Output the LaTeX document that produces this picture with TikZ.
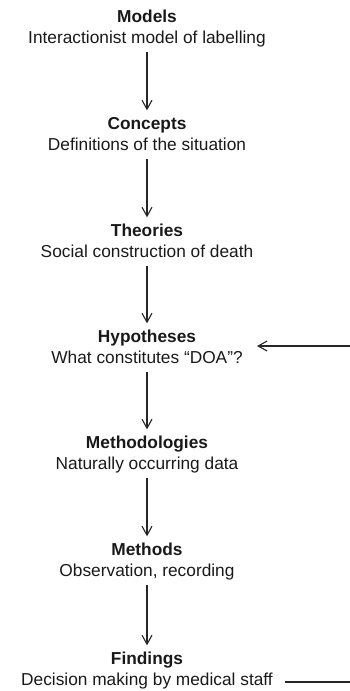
\documentclass[tikz,border=0pt]{standalone}
\usepackage{fontspec}
\setmainfont{Liberation Sans}
\usetikzlibrary{arrows.meta}
\begin{document}
\begin{tikzpicture}[x=1pt,y=-1pt,
  lbl/.style={anchor=base,inner xsep=0pt,inner ysep=0pt,text height=12.5pt,text depth=4pt,
    font=\fontsize{17.3}{21}\selectfont,text=black!90},
  ttl/.style={lbl,font=\fontsize{17.3}{21}\selectfont\bfseries},
  arr/.style={draw=black!85,line width=1.5pt,-{Straight Barb[length=9pt,width=10pt,line width=1.1pt]}},
  plain/.style={draw=black!85,line width=1.5pt}]
\useasboundingbox (0,0) rectangle (350,691);
\node[ttl] (t1) at (147,22)  {Models};
\node[lbl] (s1) at (147,43)  {Interactionist model of labelling};
\node[ttl] (t2) at (147,129) {Concepts};
\node[lbl] (s2) at (147,150) {Definitions of the situation};
\node[ttl] (t3) at (147,236) {Theories};
\node[lbl] (s3) at (147,257) {Social construction of death};
\node[ttl] (t4) at (147,342) {Hypotheses};
\node[lbl] (s4) at (147,363) {What constitutes “DOA”?};
\node[ttl] (t5) at (147,448) {Methodologies};
\node[lbl] (s5) at (147,469) {Naturally occurring data};
\node[ttl] (t6) at (147,555) {Methods};
\node[lbl] (s6) at (147,576) {Observation, recording};
\node[ttl] (t7) at (147,664) {Findings};
\node[lbl] (s7) at (147,685) {Decision making by medical staff};
\foreach \a/\b in {s1/t2,s2/t3,s3/t4,s4/t5,s5/t6,s6/t7}
  \draw[arr,shorten <=5pt,shorten >=6pt] (\a.south) -- (\b.north);
\coordinate (hr) at (350,346);
\coordinate (hl) at (257,346);
\draw[arr] (hr) -- (hl);
\coordinate (fr) at (350,682);
\coordinate (fl) at (285,682);
\draw[plain] (fl) -- (fr);
\end{tikzpicture}
\end{document}
